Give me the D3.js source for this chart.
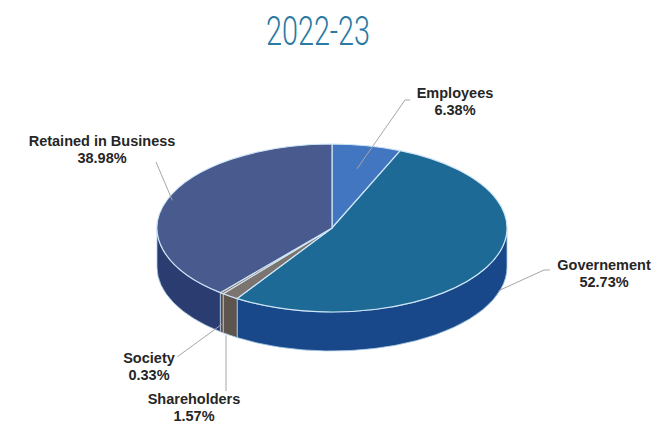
<!DOCTYPE html>
<html>
<head>
<meta charset="utf-8">
<script src="https://cdn.jsdelivr.net/npm/d3@7"></script>
<style>
  html, body { margin: 0; padding: 0; background: #ffffff; }
  svg { display: block; }
</style>
</head>
<body>
<svg id="chart" width="661" height="423"></svg>
<script>
// Distribution of value, 2022-23
const title = "2022-23";
const categories = ["Employees", "Governement", "Shareholders", "Society", "Retained in Business"];
const shares = [6.38, 52.73, 1.57, 0.33, 38.98];

// Slice fills: top face and darker side wall
const topColors  = ["#4276c0", "#1d6a97", "#7b7470", "#8a5e44", "#485a8e"];
const sideColors = ["#2a57a0", "#18488a", "#5e554f", "#6a4632", "#2b3c70"];

// Label placement (text centre, first baseline) and leader-line elbow for each category
const labelLayout = {
  "Employees":            { x: 455, y: 98,  elbow: [[405, 100], [410, 100]], r: 0.72, drop: 0 },
  "Governement":          { x: 604, y: 270, elbow: [[544, 270], [550, 270]], r: 1.0,  drop: 0.6, dx: 12 },
  "Shareholders":         { x: 194, y: 404, elbow: [[226, 391]],            r: 1.0,  drop: 1.0, fixX: true },
  "Society":              { x: 149, y: 363, elbow: [[177, 357]],            r: 1.0,  drop: 0.8 },
  "Retained in Business": { x: 102, y: 146, elbow: [[156, 162]],            r: 0.97, drop: 0 }
};

const svg = d3.select("#chart");

// Elliptical projection of the pie
const cx = 332, cy = 228, rx = 175, ry = 84, depth = 39;
const px = (a, k = 1) => cx + rx * k * Math.sin(a);
const py = (a, k = 1) => cy - ry * k * Math.cos(a);

const pie = d3.pie().sort(null).value(d => d.value).startAngle(0).endAngle(2 * Math.PI);
const arcs = pie(categories.map((c, i) => ({ name: c, value: shares[i], i })));

function topPath(d) {
  const a0 = d.startAngle, a1 = d.endAngle;
  const large = (a1 - a0) > Math.PI ? 1 : 0;
  return `M${cx},${cy}L${px(a0)},${py(a0)}A${rx},${ry} 0 ${large} 1 ${px(a1)},${py(a1)}Z`;
}

function sidePath(d) {
  const a0 = Math.max(d.startAngle, Math.PI / 2);
  const a1 = Math.min(d.endAngle, 3 * Math.PI / 2);
  if (a1 <= a0) return null;
  const large = (a1 - a0) > Math.PI ? 1 : 0;
  return `M${px(a0)},${py(a0)}A${rx},${ry} 0 ${large} 1 ${px(a1)},${py(a1)}` +
         `L${px(a1)},${py(a1) + depth}A${rx},${ry} 0 ${large} 0 ${px(a0)},${py(a0) + depth}Z`;
}

// Side walls
svg.append("g").selectAll("path")
  .data(arcs.filter(d => sidePath(d)))
  .join("path")
  .attr("d", sidePath)
  .attr("fill", d => sideColors[d.data.i])
  .attr("stroke", "#a9cbe6")
  .attr("stroke-width", 0.8)
  .attr("stroke-linejoin", "round");

// Top faces
svg.append("g").selectAll("path")
  .data(arcs)
  .join("path")
  .attr("d", topPath)
  .attr("fill", d => topColors[d.data.i])
  .attr("stroke", "#cfe6f6")
  .attr("stroke-width", 1.2)
  .attr("stroke-linejoin", "round");

// Leader lines and labels
const labels = svg.append("g");
arcs.forEach(d => {
  const L = labelLayout[d.data.name];
  const mid = (d.startAngle + d.endAngle) / 2;
  let sx = px(mid, L.r) + (L.dx || 0), sy = py(mid, L.r) + depth * L.drop;
  if (L.fixX) sx = L.elbow[0][0];
  const pts = [[sx, sy], ...L.elbow];
  labels.append("path")
    .attr("d", d3.line()(pts))
    .attr("fill", "none")
    .attr("stroke", "#a6a6a6")
    .attr("stroke-width", 1);

  const t = labels.append("text")
    .attr("x", L.x).attr("y", L.y)
    .attr("text-anchor", "middle")
    .attr("font-family", "'Liberation Sans', Arial, sans-serif")
    .attr("font-weight", "700")
    .attr("font-size", 14.5)
    .attr("fill", "#262626");
  t.append("tspan").attr("x", L.x).text(d.data.name);
  t.append("tspan").attr("x", L.x).attr("dy", 17).text(d3.format(".2f")(d.data.value) + "%");
});

// Title
svg.append("text")
  .attr("x", 318).attr("y", 45)
  .attr("text-anchor", "middle")
  .attr("font-family", "'Roboto', 'Liberation Sans', sans-serif")
  .attr("font-weight", "300")
  .attr("font-size", 40)
  .attr("textLength", 104)
  .attr("lengthAdjust", "spacingAndGlyphs")
  .attr("fill", "#2a7aa2")
  .text(title);
</script>
</body>
</html>
